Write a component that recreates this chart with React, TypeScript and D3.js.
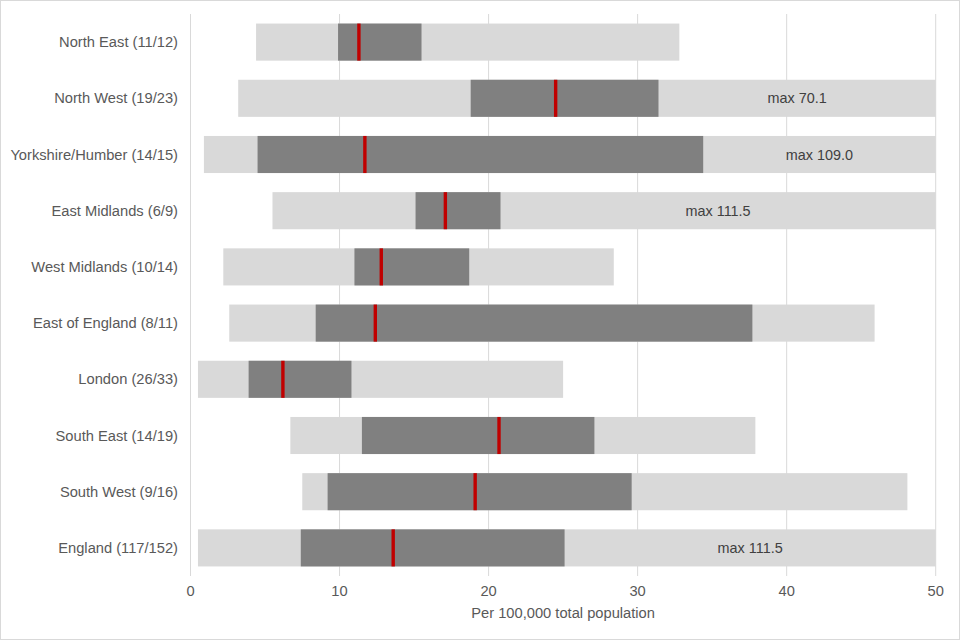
import React from 'react';
import * as d3 from 'd3';

const regions = [
  'North East (11/12)',
  'North West (19/23)',
  'Yorkshire/Humber (14/15)',
  'East Midlands (6/9)',
  'West Midlands (10/14)',
  'East of England (8/11)',
  'London (26/33)',
  'South East (14/19)',
  'South West (9/16)',
  'England (117/152)',
];
const minVals = [4.4, 3.2, 0.9, 5.5, 2.2, 2.6, 0.5, 6.7, 7.5, 0.5];
const lowerQ = [9.9, 18.8, 4.5, 15.1, 11.0, 8.4, 3.9, 11.5, 9.2, 7.4];
const medians = [11.3, 24.5, 11.7, 17.1, 12.8, 12.4, 6.2, 20.7, 19.1, 13.6];
const upperQ = [15.5, 31.4, 34.4, 20.8, 18.7, 37.7, 10.8, 27.1, 29.6, 25.1];
const maxVals = [32.8, 70.1, 109.0, 111.5, 28.4, 45.9, 25.0, 37.9, 48.1, 111.5];
const xTicks = [0, 10, 20, 30, 40, 50];

const W = 960;
const H = 640;
const margin = { top: 14, right: 24, bottom: 64, left: 190.5 };
const FONT = '"Liberation Sans", Arial, sans-serif';

export default function App() {
  const innerW = 935.7 - margin.left;
  const innerH = H - margin.top - margin.bottom;

  const x = d3.scaleLinear().domain([0, 50]).range([0, innerW]);
  const y = d3.scaleBand<string>().domain(regions).range([0, innerH]).paddingInner(0.34).paddingOuter(0.17);
  const clip = (v: number) => Math.min(v, 50);

  return (
    <div style={{ position: 'absolute', left: 0, top: 0 }}>
      <svg width={W} height={H} style={{ display: 'block', fontFamily: FONT }}>
        <rect x={0.5} y={0.5} width={W - 1} height={H - 1} fill="#fff" stroke="#d9d9d9" />
        <g transform={`translate(${margin.left},${margin.top})`}>
          {/* grid */}
          {xTicks.map((t) => (
            <line key={t} x1={x(t)} x2={x(t)} y1={0} y2={innerH} stroke="#d9d9d9" strokeWidth={1} />
          ))}
          {regions.map((r, i) => {
            const y0 = y(r)!;
            const bh = y.bandwidth();
            const showMax = maxVals[i] > 50;
            return (
              <g key={r}>
                <rect x={x(minVals[i])} y={y0} width={x(clip(maxVals[i])) - x(minVals[i])} height={bh} fill="#d9d9d9" />
                <rect x={x(lowerQ[i])} y={y0} width={x(upperQ[i]) - x(lowerQ[i])} height={bh} fill="#808080" />
                <rect x={x(medians[i]) - 1.7} y={y0} width={3.4} height={bh} fill="#c00000" />
                {showMax && (
                  <text
                    x={(x(upperQ[i]) + x(50)) / 2}
                    y={y0 + bh / 2}
                    dy="0.35em"
                    textAnchor="middle"
                    fontSize={14.4}
                    fill="#404040"
                  >
                    {`max ${maxVals[i].toFixed(1)}`}
                  </text>
                )}
                <text
                  x={-12.5}
                  y={y0 + bh / 2}
                  dy="0.35em"
                  textAnchor="end"
                  fontSize={14.7}
                  fill="#595959"
                >
                  {r}
                </text>
              </g>
            );
          })}
          {xTicks.map((t) => (
            <text key={t} x={x(t)} y={innerH + 15} dy="0.35em" textAnchor="middle" fontSize={14.7} fill="#595959">
              {t}
            </text>
          ))}
          <text x={innerW / 2} y={innerH + 37} dy="0.35em" textAnchor="middle" fontSize={14.7} fill="#595959">
            Per 100,000 total population
          </text>
        </g>
      </svg>
    </div>
  );
}
